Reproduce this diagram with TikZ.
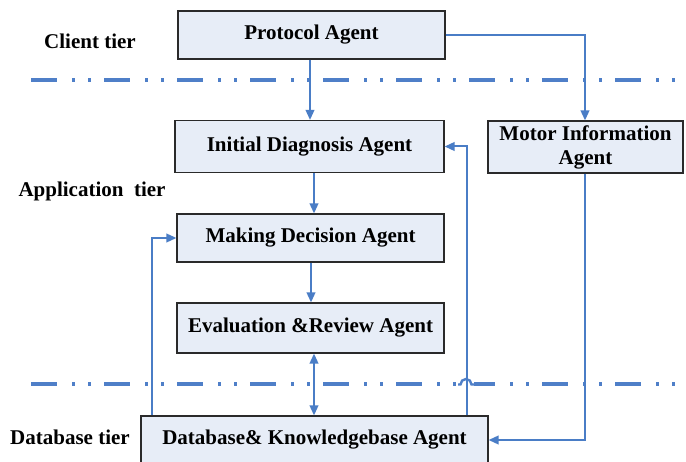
\documentclass[tikz,border=0pt]{standalone}
\usepackage{fontspec}
\setmainfont{Liberation Serif}
\usetikzlibrary{arrows.meta}
\definecolor{boxfill}{HTML}{E7EDF7}
\definecolor{boxline}{HTML}{2A2A2A}
\definecolor{conn}{HTML}{4A7DC6}
\definecolor{tierline}{HTML}{4F7FC8}
\begin{document}
\begin{tikzpicture}[x=1pt,y=-1pt,
  agent/.style={draw=boxline, line width=1.1pt, fill=boxfill, inner sep=2pt,
    font=\fontsize{21}{24}\selectfont\bfseries, align=center},
  tierlabel/.style={font=\fontsize{21}{24}\selectfont\bfseries, inner sep=0pt},
  arr/.style={draw=conn, line width=2pt, -{Triangle[length=10pt,width=8.5pt]}},
  darr/.style={draw=conn, line width=2pt, {Triangle[length=10pt,width=8.5pt]}-{Triangle[length=10pt,width=8.5pt]}},
  tierdash/.style={draw=tierline, line width=3.2pt,
    dash pattern=on 26pt off 15pt on 2.8pt off 13.2pt on 2.8pt off 13.2pt}
]
\useasboundingbox (0,0) rectangle (686,462);
\clip (0,0) rectangle (686,462);
\fill[white] (0,0) rectangle (686,462);

% tier separators
\draw[tierdash] (31,80) -- (686,80);
\draw[tierdash] (31,384) -- (686,384);

% line hop on the lower separator
\fill[white] (458,380) rectangle (474,387);
\draw[draw=tierline, line width=2.4pt] (458,384.5) -- (460.5,384.5) arc[start angle=180, end angle=360, radius=5.5] -- (480,384.5);

% tier labels
\node[tierlabel] (ct) at (90,41) {Client tier};
\node[tierlabel] (at) at (92,191) {Application\ \ tier};
\node[tierlabel] (dt) at (70,437) {Database tier};

% agents
\node[agent, minimum width=267pt, minimum height=48pt] (pa) at (311.5,35) {Protocol Agent};
\node[agent, minimum width=269pt, minimum height=52pt] (id) at (309.5,146.5) {Initial Diagnosis Agent};
\node[agent, minimum width=195pt, minimum height=52pt] (mi) at (585.5,147) {Motor Information\\Agent};
\node[agent, minimum width=267pt, minimum height=48pt] (md) at (310.5,238) {Making Decision Agent};
\node[agent, minimum width=267pt, minimum height=50pt] (ev) at (310.5,328) {Evaluation \&Review Agent};
\node[agent, minimum width=347pt, minimum height=48pt] (db) at (314.5,440) {Database\& Knowledgebase Agent};

% connectors
\draw[arr] ([xshift=-1.5pt]pa.south) -- ([xshift=-1.5pt]pa.south |- id.north);
\draw[arr] (pa.east) -| ([xshift=-0.5pt]mi.north);
\draw[arr] ([xshift=4.5pt]id.south) -- ([xshift=4.5pt]id.south |- md.north);
\draw[arr] ([xshift=0.5pt]md.south) -- ([xshift=0.5pt]md.south |- ev.north);
\draw[darr] ([xshift=-0.5pt]db.north) -- ([xshift=-0.5pt]db.north |- ev.south);
\draw[arr] ([xshift=12pt]db.north west) |- (md.west);
\draw[arr] ([xshift=-22pt]db.north east) |- (id.east);
\draw[arr] ([xshift=-0.5pt]mi.south) |- (db.east);
\end{tikzpicture}
\end{document}
